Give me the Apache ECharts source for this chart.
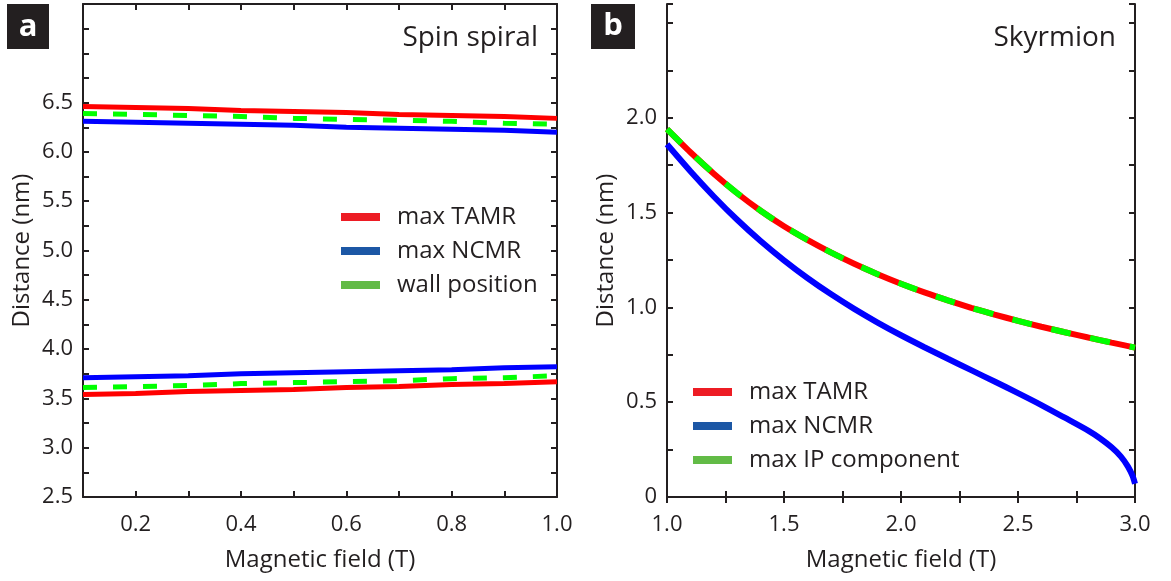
<!DOCTYPE html>
<html>
<head>
<meta charset="utf-8">
<script src="https://cdn.jsdelivr.net/npm/echarts@6/dist/echarts.min.js"></script>
<style>
html,body{margin:0;padding:0;background:#fff;}
#chart{width:1171px;height:581px;}
</style>
</head>
<body>
<div id="chart"></div>
<script>
// ---------- Data ----------
// Panel a: Spin spiral
const spiralField = [0.1, 0.2, 0.3, 0.4, 0.5, 0.6, 0.7, 0.8, 0.9, 1.0];
const spiralTAMRUpper = [6.46, 6.45, 6.44, 6.42, 6.41, 6.40, 6.38, 6.37, 6.36, 6.34];
const spiralWallUpper = [6.39, 6.38, 6.37, 6.36, 6.34, 6.33, 6.32, 6.31, 6.29, 6.28];
const spiralNCMRUpper = [6.31, 6.30, 6.29, 6.28, 6.27, 6.25, 6.24, 6.23, 6.22, 6.20];
const spiralNCMRLower = [3.71, 3.72, 3.73, 3.75, 3.76, 3.77, 3.78, 3.79, 3.81, 3.82];
const spiralWallLower = [3.61, 3.62, 3.63, 3.65, 3.66, 3.67, 3.68, 3.70, 3.71, 3.73];
const spiralTAMRLower = [3.54, 3.55, 3.57, 3.58, 3.59, 3.61, 3.62, 3.64, 3.65, 3.67];

// Panel b: Skyrmion
const skyField = [1.0, 1.1, 1.2, 1.3, 1.4, 1.5, 1.6, 1.7, 1.8, 1.9, 2.0, 2.1, 2.2, 2.3, 2.4, 2.5, 2.6, 2.7, 2.8, 2.9, 3.0];
const skyTAMR = [1.94, 1.818, 1.705, 1.602, 1.51, 1.428, 1.356, 1.29, 1.23, 1.175, 1.125, 1.079, 1.037, 0.998, 0.962, 0.929, 0.898, 0.869, 0.841, 0.814, 0.788];
const skyIP   = [1.94, 1.818, 1.705, 1.602, 1.51, 1.428, 1.356, 1.29, 1.23, 1.175, 1.125, 1.079, 1.037, 0.998, 0.962, 0.929, 0.898, 0.869, 0.841, 0.814, 0.788];
const skyNCMRField = [1.0, 1.1, 1.2, 1.3, 1.4, 1.5, 1.6, 1.7, 1.8, 1.9, 2.0, 2.1, 2.2, 2.3, 2.4, 2.5, 2.6, 2.7, 2.8, 2.85, 2.9, 2.94, 2.97, 2.99, 3.0];
const skyNCMR = [1.86, 1.718, 1.585, 1.462, 1.35, 1.248, 1.155, 1.07, 0.992, 0.92, 0.853, 0.79, 0.729, 0.669, 0.609, 0.548, 0.485, 0.418, 0.35, 0.31, 0.262, 0.213, 0.16, 0.11, 0.07];

const legendNamesA = ['max TAMR', 'max NCMR', 'wall position'];
const legendNamesB = ['max TAMR', 'max NCMR', 'max IP component'];
const panelTitles = ['Spin spiral', 'Skyrmion'];
const panelLetters = ['a', 'b'];
const xName = 'Magnetic field (T)';
const yName = 'Distance (nm)';

// ---------- Styles ----------
const INK = '#231f20';
const FONT = '"Open Sans", "Noto Sans", sans-serif';
const RED = '#ff0000', BLUE = '#0000ff', GREEN = '#00ff00';
const LRED = '#ed1c24', LBLUE = '#1c57a5', LGREEN = '#62bb46';

const pairs = (xs, ys) => xs.map((x, i) => [x, ys[i]]);

const axisLineStyle = { show: true, lineStyle: { color: INK, width: 2 } };
const tickStyle = { show: true, inside: true, length: 6, lineStyle: { color: INK, width: 2 } };
const labelBase = { color: INK, fontFamily: FONT, fontSize: 22 };
const nameStyle = { color: INK, fontFamily: FONT, fontSize: 24 };

function fmtA_x(v) { const k = Math.round(v * 10); return k % 2 === 0 ? (k / 10).toFixed(1) : ''; }
function fmtA_y(v) { const k = Math.round(v * 4); return (k % 2 === 0 && v <= 6.51) ? (k / 4).toFixed(1) : ''; }
function fmtB_x(v) { const k = Math.round(v * 4); return k % 2 === 0 ? (k / 4).toFixed(1) : ''; }
function fmtB_y(v) { if (v > 2.01) return ''; const k = Math.round(v * 4); if (k % 2) return ''; return k === 0 ? '0' : (k / 4).toFixed(1); }

function mkX(grid, min, max, interval, fmt, pos) {
  const main = pos === 'bottom';
  return {
    type: 'value', gridIndex: grid, position: pos, min, max, interval,
    axisLine: axisLineStyle, axisTick: tickStyle, splitLine: { show: false },
    axisLabel: main ? Object.assign({ show: true, margin: 17, formatter: fmt, hideOverlap: false }, labelBase) : { show: false },
    name: main ? xName : '', nameLocation: 'middle', nameGap: 51, nameTextStyle: nameStyle, nameMoveOverlap: false
  };
}
function mkY(grid, min, max, interval, fmt, pos) {
  const main = pos === 'left';
  return {
    type: 'value', gridIndex: grid, position: pos, min, max, interval,
    axisLine: axisLineStyle, axisTick: tickStyle, splitLine: { show: false },
    axisLabel: main ? Object.assign({ show: true, margin: 10, formatter: fmt, hideOverlap: false }, labelBase) : { show: false },
    name: main ? yName : '', nameLocation: 'middle', nameGap: 49, nameTextStyle: nameStyle, nameMoveOverlap: false
  };
}

function line(name, xi, yi, data, color, width, dashed, smooth, z) {
  return {
    type: 'line', name, xAxisIndex: xi, yAxisIndex: yi, data, showSymbol: false, symbol: 'none',
    smooth: smooth || false, clip: false, animation: false, z: z || 2,
    lineStyle: { color, width, type: dashed ? dashed : 'solid', cap: 'butt' },
    itemStyle: { color }
  };
}

function legendData(names, colors) {
  return names.map((n, i) => ({ name: n, icon: 'rect', itemStyle: { color: colors[i], borderWidth: 0 } }));
}

const option = {
  animation: false,
  backgroundColor: '#fff',
  grid: [
    { left: 83, top: 4, width: 474, height: 493, outerBoundsMode: 'none', containLabel: false },
    { left: 667, top: 4, width: 468, height: 493, outerBoundsMode: 'none', containLabel: false }
  ],
  xAxis: [
    mkX(0, 0.1, 1.0, 0.1, fmtA_x, 'bottom'),
    mkX(0, 0.1, 1.0, 0.1, fmtA_x, 'top'),
    mkX(1, 1.0, 3.0, 0.25, fmtB_x, 'bottom'),
    mkX(1, 1.0, 3.0, 0.25, fmtB_x, 'top')
  ],
  yAxis: [
    mkY(0, 2.5, 7.5, 0.25, fmtA_y, 'left'),
    mkY(0, 2.5, 7.5, 0.25, fmtA_y, 'right'),
    mkY(1, 0, 2.6, 0.25, fmtB_y, 'left'),
    mkY(1, 0, 2.6, 0.25, fmtB_y, 'right')
  ],
  legend: [
    {
      left: 341, top: 205, orient: 'vertical', padding: 0, itemGap: 10,
      itemWidth: 39, itemHeight: 8, selectedMode: false,
      textStyle: { color: INK, fontFamily: FONT, fontSize: 24, lineHeight: 24, padding: [0, 0, 0, 12] },
      data: legendData(legendNamesA, [LRED, LBLUE, LGREEN])
    },
    {
      left: 693, top: 380, orient: 'vertical', padding: 0, itemGap: 10,
      itemWidth: 39, itemHeight: 8, selectedMode: false,
      textStyle: { color: INK, fontFamily: FONT, fontSize: 24, lineHeight: 24, padding: [0, 0, 0, 12] },
      data: legendData(legendNamesB, [LRED, LBLUE, LGREEN])
    }
  ],
  graphic: [
    { type: 'rect', shape: { x: 7, y: 4, width: 42, height: 45 }, style: { fill: INK } },
    { type: 'text', x: 28, y: 27, style: { text: panelLetters[0], fill: '#fff', font: 'bold 31px ' + FONT, textAlign: 'center', textVerticalAlign: 'middle' } },
    { type: 'rect', shape: { x: 591, y: 4, width: 44, height: 45 }, style: { fill: INK } },
    { type: 'text', x: 613, y: 26, style: { text: panelLetters[1], fill: '#fff', font: 'bold 31px ' + FONT, textAlign: 'center', textVerticalAlign: 'middle' } },
    { type: 'text', x: 538, y: 38, style: { text: panelTitles[0], fill: INK, font: '28px ' + FONT, textAlign: 'right', textVerticalAlign: 'middle' } },
    { type: 'text', x: 1116, y: 38, style: { text: panelTitles[1], fill: INK, font: '28px ' + FONT, textAlign: 'right', textVerticalAlign: 'middle' } }
  ],
  series: [
    line(legendNamesA[0], 0, 0, pairs(spiralField, spiralTAMRUpper), RED, 5),
    line(legendNamesA[1], 0, 0, pairs(spiralField, spiralNCMRUpper), BLUE, 5),
    line(legendNamesA[2], 0, 0, pairs(spiralField, spiralWallUpper), GREEN, 5, [14, 16], false, 3),
    line(legendNamesA[0], 0, 0, pairs(spiralField, spiralTAMRLower), RED, 5),
    line(legendNamesA[1], 0, 0, pairs(spiralField, spiralNCMRLower), BLUE, 5),
    line(legendNamesA[2], 0, 0, pairs(spiralField, spiralWallLower), GREEN, 5, [14, 16], false, 3),
    line(legendNamesB[0], 2, 2, pairs(skyField, skyTAMR), RED, 6, null, 0.25),
    line(legendNamesB[1], 2, 2, pairs(skyNCMRField, skyNCMR), BLUE, 6, null, 0.25),
    line(legendNamesB[2], 2, 2, pairs(skyField, skyIP), GREEN, 6, [20, 20], 0.25, 3)
  ]
};

const chart = echarts.init(document.getElementById('chart'), null, { renderer: 'canvas' });
chart.setOption(option);
</script>
</body>
</html>
